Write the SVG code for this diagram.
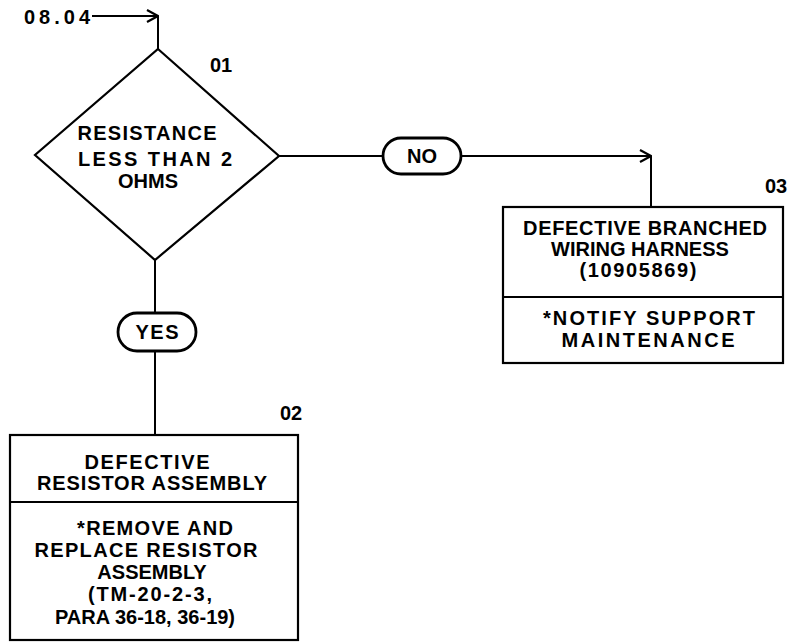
<svg xmlns="http://www.w3.org/2000/svg" width="800" height="643" viewBox="0 0 800 643">
<defs>
<style>
.t{font-family:"Liberation Sans",Arial,sans-serif;font-weight:bold;font-size:20px;fill:#000;text-anchor:middle}
.l{fill:none;stroke:#000;stroke-width:2}
.b{fill:#fff;stroke:#000;stroke-width:2.2}
.p{fill:#fff;stroke:#000;stroke-width:2.8}
</style>
<marker id="ah" viewBox="0 0 14 14" refX="13" refY="7" markerWidth="14" markerHeight="14" markerUnits="userSpaceOnUse" orient="auto">
<path d="M2,1 L13,7 L2,13" fill="none" stroke="#000" stroke-width="2.2"/>
</marker>
</defs>
<rect width="800" height="643" fill="#fff"/>
<g id="connectors">
<path class="l" d="M92,16 L158,16" marker-end="url(#ah)"/>
<path class="l" d="M158,16 L158,49"/>
<path class="l" d="M279,156 L383,156"/>
<path class="l" d="M461,156 L651,156" marker-end="url(#ah)"/>
<path class="l" d="M651,156 L651,207"/>
<path class="l" d="M155,260 L155,313"/>
<path class="l" d="M155,351 L155,435"/>
</g>
<g id="start">
<text class="t" x="57" y="24" textLength="66" lengthAdjust="spacing">08.04</text>
</g>
<g id="n01">
<polygon class="b" points="158,49 279,156 155,260 35,155"/>
<text class="t" x="221" y="72">01</text>
<text class="t" x="147" y="140" textLength="139" lengthAdjust="spacing">RESISTANCE</text>
<text class="t" x="155" y="166" textLength="154" lengthAdjust="spacing">LESS THAN 2</text>
<text class="t" x="148" y="188">OHMS</text>
</g>
<g id="no">
<rect class="p" x="383" y="138" width="78" height="36" rx="18"/>
<text class="t" x="422" y="163">NO</text>
</g>
<g id="yes">
<rect class="p" x="118" y="313" width="78" height="38" rx="19"/>
<text class="t" x="157" y="339" textLength="43" lengthAdjust="spacing">YES</text>
</g>
<g id="n03">
<rect class="b" x="503" y="207" width="280" height="156"/>
<line class="l" x1="503" y1="297" x2="783" y2="297"/>
<text class="t" x="776" y="193">03</text>
<text class="t" x="645" y="235" textLength="244" lengthAdjust="spacing">DEFECTIVE BRANCHED</text>
<text class="t" x="640" y="256">WIRING HARNESS</text>
<text class="t" x="638" y="277" textLength="117" lengthAdjust="spacing">(10905869)</text>
<text class="t" x="649" y="325" textLength="212" lengthAdjust="spacing">*NOTIFY SUPPORT</text>
<text class="t" x="648" y="347" textLength="173" lengthAdjust="spacing">MAINTENANCE</text>
</g>
<g id="n02">
<rect class="b" x="10" y="435" width="288" height="205"/>
<line class="l" x1="10" y1="502" x2="298" y2="502"/>
<text class="t" x="291" y="420">02</text>
<text class="t" x="147" y="469" textLength="125" lengthAdjust="spacing">DEFECTIVE</text>
<text class="t" x="152" y="490" textLength="230" lengthAdjust="spacing">RESISTOR ASSEMBLY</text>
<text class="t" x="155" y="535" textLength="156" lengthAdjust="spacing">*REMOVE AND</text>
<text class="t" x="146" y="557" textLength="223" lengthAdjust="spacing">REPLACE RESISTOR</text>
<text class="t" x="152" y="579">ASSEMBLY</text>
<text class="t" x="150" y="601" textLength="124" lengthAdjust="spacing">(TM-20-2-3,</text>
<text class="t" x="145" y="624">PARA 36-18, 36-19)</text>
</g>
</svg>
